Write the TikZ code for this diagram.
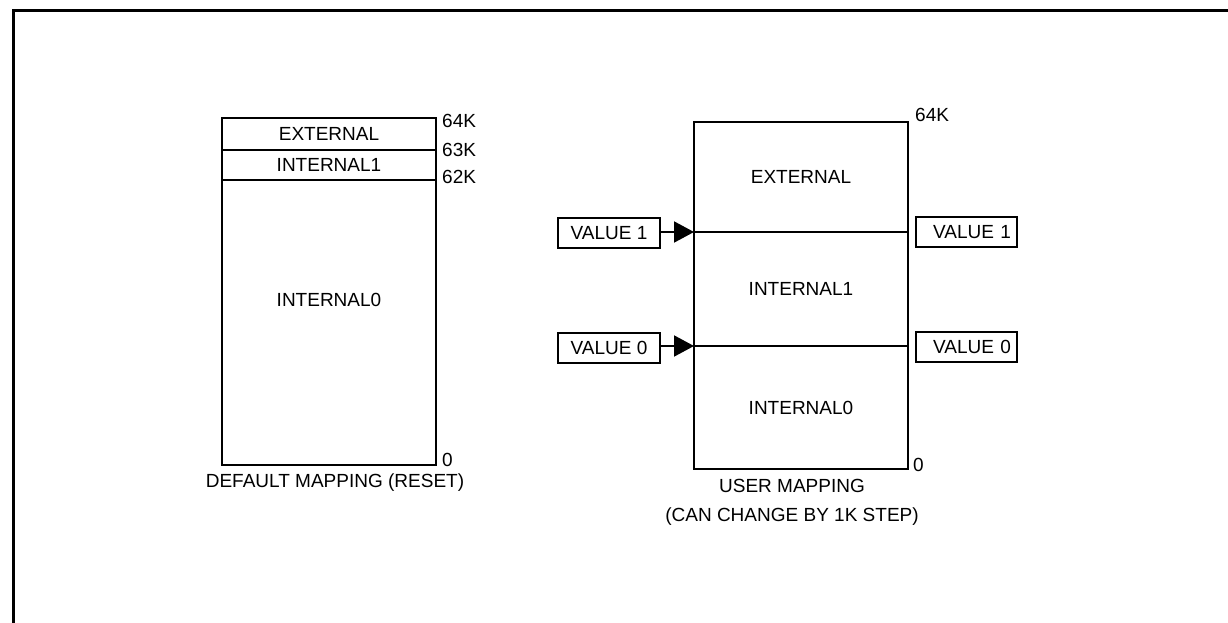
\documentclass[tikz,border=0pt]{standalone}
\usepackage{fontspec}
\setmainfont{Liberation Sans}
\usetikzlibrary{positioning, arrows.meta}

\begin{document}
\begin{tikzpicture}[
      x=1pt, y=-1pt,
      seg/.style={
         rectangle,
         draw=black,
         line width=2pt,
         inner sep=0pt,
         outer sep=0pt,
         minimum width=214pt,
         font=\fontsize{19}{22}\selectfont},
      valbox/.style={
         rectangle,
         draw=black,
         line width=2pt,
         inner sep=0pt,
         minimum width=102pt,
         minimum height=30pt,
         font=\fontsize{19}{22}\selectfont},
      valright/.style={
         minimum width=101pt,
         text width=89pt,
         align=right,
         inner xsep=6pt},
      addr/.style={anchor=west, inner sep=0pt, font=\fontsize{19}{22}\selectfont},
      myarrow/.style={-{Triangle[length=20pt,width=21pt]}, line width=2pt},
      node distance=0pt
      ]
      \useasboundingbox (0,0) rectangle (1228,623);

      % outer frame (cut off at right and bottom)
      \draw[line width=3pt] (13,650) -- (13,10.5) -- (1250,10.5);

      % default mapping
      \node[seg, minimum height=32pt] (lext) at (329,134) {EXTERNAL};
      \node[seg, minimum height=30pt, below=of lext] (lint1) {INTERNAL1};
      \node[seg, minimum height=285pt, below=of lint1] (lint0) {};
      \node[font=\fontsize{19}{22}\selectfont] (lint0txt) at (329,300) {INTERNAL0};

      % user mapping
      \node[seg, minimum height=110pt] (rext) at (801,177) {EXTERNAL};
      \node[seg, minimum height=114pt, below=of rext] (rint1) {INTERNAL1};
      \node[seg, minimum height=123pt, below=of rint1] (rint0) {INTERNAL0};

      % boundary values
      \node[valbox] (v1in) at (609,233) {VALUE 1};
      \node[valbox] (v0in) at (609,348) {VALUE 0};
      \node[valbox, valright] (v1out) at (966.5,232) {VALUE 1};
      \node[valbox, valright] (v0out) at (966.5,347) {VALUE 0};

    \foreach \v/\s in {v1in/rint1, v0in/rint0}
       \draw[myarrow] (\v.east |- \s.north west) -- (\s.north west);

    \foreach \t/\y in {64K/121, 63K/150, 62K/177, 0/460}
       \node[addr] (laddr\t) at (442,\y) {\t};
      \node[addr] (raddr64) at (915,115) {64K};
      \node[addr] (raddr0) at (913,465) {0};

      % captions
      \node[font=\fontsize{19}{22}\selectfont] (lcap) at (335,483) {DEFAULT MAPPING (RESET)};
      \node[font=\fontsize{19}{29}\selectfont, align=center] (rcap) at (792,502)
         {USER MAPPING\\(CAN CHANGE BY 1K STEP)};
\end{tikzpicture}
\end{document}
